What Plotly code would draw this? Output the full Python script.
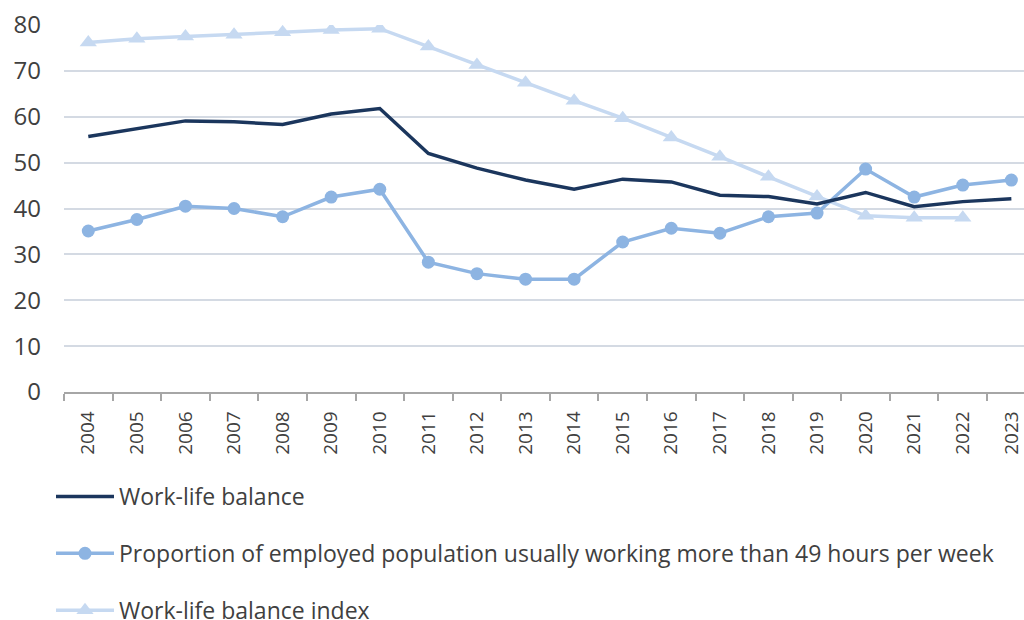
import plotly.graph_objects as go

years = [str(y) for y in range(2004, 2024)]

work_life_balance = [55.7, 57.4, 59.1, 58.9, 58.3, 60.6, 61.8, 52.0, 48.8, 46.2,
                     44.2, 46.4, 45.8, 42.9, 42.6, 41.0, 43.5, 40.4, 41.5, 42.1]

long_hours_share = [35.1, 37.6, 40.5, 40.0, 38.2, 42.5, 44.2, 28.3, 25.8, 24.6,
                    24.6, 32.7, 35.7, 34.6, 38.2, 39.0, 48.6, 42.5, 45.1, 46.2]

balance_index = [76.2, 77.0, 77.5, 77.9, 78.4, 78.9, 79.2, 75.3, 71.3, 67.4,
                 63.5, 59.7, 55.5, 51.3, 46.9, 42.6, 38.4, 38.0, 38.0, None]

y_ticks = [0, 10, 20, 30, 40, 50, 60, 70, 80]

NAVY = "#1B365D"
MID = "#8DB4E2"
LIGHT = "#C6D9F1"
FONT = "Open Sans"

fig = go.Figure()

# drawn back-to-front: index first, then the long-hours share, then the balance line
fig.add_trace(go.Scatter(
    x=years, y=balance_index, name="Work-life balance index",
    mode="lines+markers", line=dict(color=LIGHT, width=3.5),
    marker=dict(symbol="triangle-up", size=15, color=LIGHT),
    legendgroup="c", legendrank=3,
))
fig.add_trace(go.Scatter(
    x=years, y=long_hours_share,
    name="Proportion of employed population usually working more than 49 hours per week",
    mode="lines+markers", line=dict(color=MID, width=3.5),
    marker=dict(symbol="circle", size=13, color=MID),
    legendgroup="b", legendrank=2,
))
fig.add_trace(go.Scatter(
    x=years, y=work_life_balance, name="Work-life balance",
    mode="lines", line=dict(color=NAVY, width=3.5),
    legendgroup="a", legendrank=1,
))

fig.update_layout(
    width=1024, height=620,
    margin=dict(l=64, r=0, t=25, b=228, autoexpand=False),
    paper_bgcolor="white", plot_bgcolor="white",
    font=dict(family=FONT, color="#404040"),
    showlegend=True,
    legend=dict(
        xref="container", yref="container",
        x=51 / 1024, y=1 - 475 / 620, xanchor="left", yanchor="top",
        orientation="v", traceorder="grouped", tracegroupgap=24,
        itemwidth=58, font=dict(family=FONT, size=23, color="#404040"),
        bgcolor="rgba(0,0,0,0)",
    ),
    xaxis=dict(
        type="category", range=[-0.5, 19.26],
        showgrid=False, showline=True, linecolor="#A6A6A6", linewidth=1.5,
        ticks="outside", ticklen=7, tickcolor="#A6A6A6", tickwidth=1.5,
        tickson="boundaries", tickangle=-90,
        tickfont=dict(family=FONT, size=19, color="#404040"),
        ticklabelstandoff=10, fixedrange=True,
    ),
    yaxis=dict(
        range=[0, 80], tickvals=y_ticks,
        showgrid=True, gridcolor="#D4DAE3", gridwidth=1.5,
        zeroline=False, showline=False, ticks="",
        tickfont=dict(family=FONT, size=24, color="#404040"),
        ticklabelstandoff=22, fixedrange=True,
    ),
)

fig.write_html("out.html")
